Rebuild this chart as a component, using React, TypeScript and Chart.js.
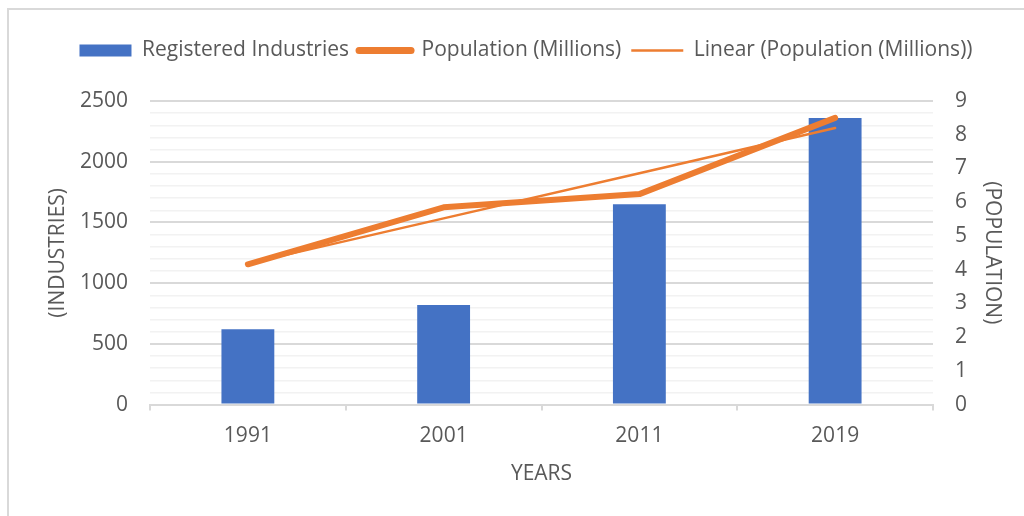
import React, { useEffect, useRef } from 'react';
import { Chart, registerables } from 'chart.js';

Chart.register(...registerables);

// ---- data ----
const years = ['1991', '2001', '2011', '2019'];
const registeredIndustries = [620, 820, 1650, 2360];
const populationMillions = [4.16, 5.85, 6.24, 8.5];
const linearPopulation = [4.18, 5.52, 6.86, 8.2];
const seriesNames = ['Registered Industries', 'Population (Millions)', 'Linear (Population (Millions))'];
const xTitle = 'YEARS';
const leftTitle = '(INDUSTRIES)';
const rightTitle = '(POPULATION)';
const leftAxisRange = [0, 2500];
const rightAxisRange = [0, 9];

// ---- style ----
const BLUE = '#4472C4';
const ORANGE = '#ED7D31';
const TEXT = '#595959';
const GRID_MAJOR = '#d9d9d9';
const GRID_MINOR = '#f2f2f2';
const FONT = "'Open Sans', 'DejaVu Sans', sans-serif";
const FS = 21;

const legendSpacer = {
  id: 'legendSpacer',
  beforeInit(chart: any) {
    const legend = chart.legend;
    if (!legend) return;
    const orig = legend.fit;
    legend.fit = function () {
      orig.call(this);
      this.height += 30;
    };
  },
};

export default function App() {
  const canvasRef = useRef<HTMLCanvasElement | null>(null);

  useEffect(() => {
    if (!canvasRef.current) return;
    Chart.defaults.font.family = FONT;
    Chart.defaults.font.size = FS;
    Chart.defaults.color = TEXT;

    const chart = new Chart(canvasRef.current, {
      type: 'bar',
      data: {
        labels: years,
        datasets: [
          {
            type: 'bar',
            label: seriesNames[0],
            data: registeredIndustries,
            backgroundColor: BLUE,
            borderWidth: 0,
            barPercentage: 0.27,
            categoryPercentage: 1,
            yAxisID: 'y',
            order: 3,
          } as any,
          {
            type: 'line',
            label: seriesNames[1],
            data: populationMillions,
            borderColor: ORANGE,
            backgroundColor: ORANGE,
            borderWidth: 6,
            pointRadius: 0,
            pointHoverRadius: 0,
            tension: 0,
            fill: false,
            borderCapStyle: 'round',
            borderJoinStyle: 'round',
            yAxisID: 'y1',
            order: 1,
          } as any,
          {
            type: 'line',
            label: seriesNames[2],
            data: linearPopulation,
            borderColor: ORANGE,
            backgroundColor: ORANGE,
            borderWidth: 2.5,
            pointRadius: 0,
            pointHoverRadius: 0,
            tension: 0,
            fill: false,
            borderCapStyle: 'round',
            yAxisID: 'y1',
            order: 2,
          } as any,
        ],
      },
      options: {
        animation: false,
        responsive: true,
        maintainAspectRatio: false,
        layout: { padding: { top: 20, left: 0, right: 0, bottom: 0 } },
        plugins: {
          tooltip: { enabled: false },
          legend: {
            position: 'top',
            labels: {
              color: TEXT,
              font: { size: FS, family: FONT },
              usePointStyle: true,
              pointStyleWidth: 52,
              boxHeight: 12,
              padding: 10,
              sort: (a: any, b: any) => a.datasetIndex - b.datasetIndex,
              generateLabels: (chart: any) => {
                const items = (Chart.defaults.plugins.legend.labels as any).generateLabels(chart);
                return items.map((it: any) => ({
                  ...it,
                  pointStyle: it.datasetIndex === 0 ? 'rect' : 'line',
                  lineWidth: it.datasetIndex === 0 ? 0 : it.datasetIndex === 1 ? 7 : 2.5,
                  lineCap: it.datasetIndex === 1 ? 'round' : 'butt',
                }));
              },
            },
          },
        },
        scales: {
          x: {
            offset: true,
            grid: {
              offset: true,
              drawOnChartArea: false,
              drawTicks: true,
              tickLength: 6,
              color: GRID_MAJOR,
              lineWidth: 2,
            },
            border: { display: true, color: GRID_MAJOR, width: 2 },
            ticks: { padding: 13, color: TEXT, font: { size: FS } },
            title: {
              display: true,
              text: xTitle,
              color: TEXT,
              font: { size: FS },
              padding: { top: 0, bottom: 2 },
            },
          },
          y: {
            position: 'left',
            min: leftAxisRange[0],
            max: leftAxisRange[1],
            ticks: {
              stepSize: 100,
              autoSkip: false,
              maxTicksLimit: 30,
              padding: 22,
              color: TEXT,
              font: { size: FS },
              callback: (v: any) => (Number(v) % 500 === 0 ? String(v) : ''),
            },
            grid: {
              drawTicks: false,
              color: (ctx: any) => (ctx.tick && ctx.tick.value % 500 === 0 ? GRID_MAJOR : GRID_MINOR),
              lineWidth: (ctx: any) => (ctx.tick && ctx.tick.value % 500 === 0 ? 2 : 1.5),
            },
            border: { display: false },
            title: {
              display: true,
              text: leftTitle,
              color: TEXT,
              font: { size: FS },
              padding: { top: 36, bottom: 12 },
            },
            afterFit: (s: any) => {
              s.width = 141;
            },
          },
          y1: {
            position: 'right',
            min: rightAxisRange[0],
            max: rightAxisRange[1],
            ticks: { stepSize: 1, padding: 22, color: TEXT, font: { size: FS } },
            grid: { display: false, drawOnChartArea: false, drawTicks: false },
            border: { display: false },
            title: {
              display: true,
              text: rightTitle,
              color: TEXT,
              font: { size: FS },
              padding: { top: 38, bottom: 0 },
            },
            afterFit: (s: any) => {
              s.width = 110;
            },
          },
        },
      } as any,
      plugins: [legendSpacer],
    });

    return () => chart.destroy();
  }, []);

  return (
    <div
      style={{
        position: 'fixed',
        left: 0,
        top: 0,
        width: 1024,
        height: 516,
        overflow: 'hidden',
        background: '#ffffff',
      }}
    >
      <div
        style={{
          position: 'absolute',
          left: 7,
          top: 8,
          width: 1100,
          height: 600,
          borderLeft: '2px solid #d9d9d9',
          borderTop: '2px solid #d9d9d9',
          background: '#ffffff',
        }}
      >
        <div style={{ position: 'relative', width: 1034, height: 479 }}>
          <canvas ref={canvasRef} />
        </div>
      </div>
    </div>
  );
}
